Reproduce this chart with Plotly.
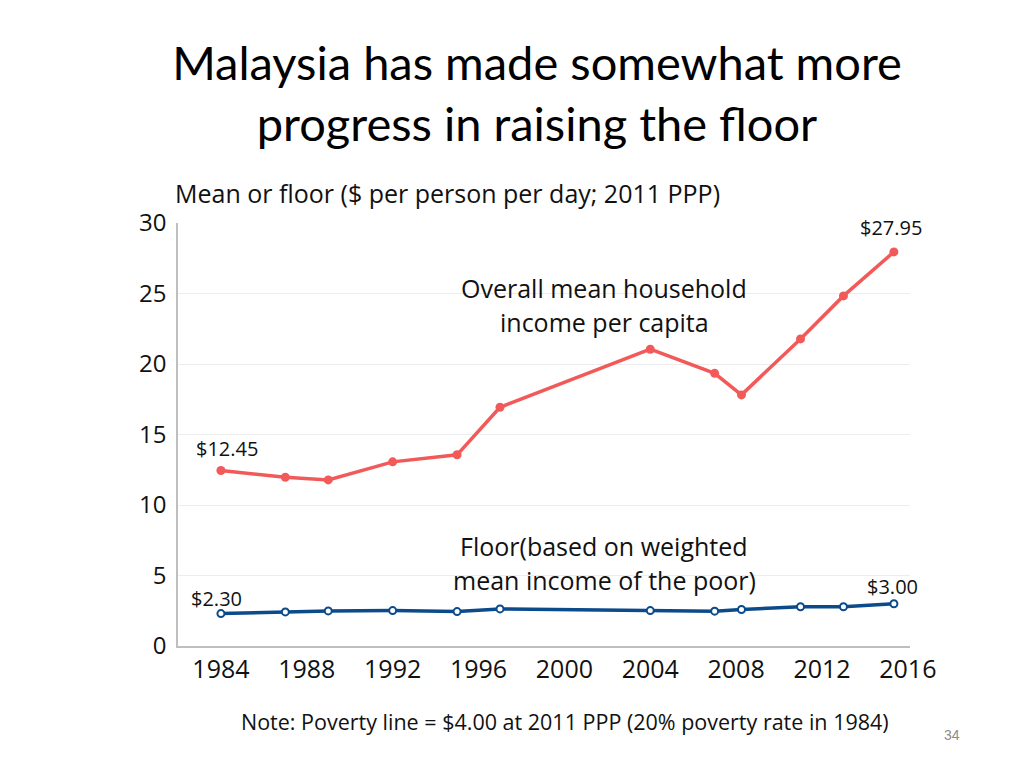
import plotly.graph_objects as go

years = [1984, 1987, 1989, 1992, 1995, 1997, 2004, 2007, 2008.25, 2011, 2013, 2015.35]
mean_income = [12.45, 11.97, 11.78, 13.06, 13.56, 16.93, 21.05, 19.34, 17.81, 21.78, 24.83, 27.95]
floor_income = [2.30, 2.42, 2.49, 2.51, 2.44, 2.63, 2.51, 2.47, 2.59, 2.78, 2.78, 3.00]
x_ticks = [1984, 1988, 1992, 1996, 2000, 2004, 2008, 2012, 2016]
y_ticks = [0, 5, 10, 15, 20, 25, 30]

TFONT = "Lato"
FONT = "Open Sans"
RED = "#F25A5A"
BLUE = "#0B4A8B"
TXT = "#111111"

fig = go.Figure()
fig.add_trace(go.Scatter(
    x=years, y=mean_income, mode="lines+markers",
    line=dict(color=RED, width=3.5),
    marker=dict(color=RED, size=9),
    showlegend=False, hoverinfo="skip"))
fig.add_trace(go.Scatter(
    x=years, y=floor_income, mode="lines+markers",
    line=dict(color=BLUE, width=3.5),
    marker=dict(color="white", size=7, line=dict(color=BLUE, width=2)),
    showlegend=False, hoverinfo="skip"))

anns = [
    dict(x=years[0], y=mean_income[0], text="$%.2f" % mean_income[0], yshift=22, xshift=6),
    dict(x=years[-1], y=mean_income[-1], text="$%.2f" % mean_income[-1], yshift=24, xshift=-3),
    dict(x=years[0], y=floor_income[0], text="$%.2f" % floor_income[0], yshift=15, xshift=-4),
    dict(x=years[-1], y=floor_income[-1], text="$%.2f" % floor_income[-1], yshift=17, xshift=-1),
]
for a in anns:
    fig.add_annotation(xref="x", yref="y", showarrow=False,
                       font=dict(family=FONT, size=20, color=TXT), **a)

def ptext(text, sx, sy, size, color=TXT, family=FONT, xanchor="center"):
    # sx, sy in screen pixels relative to plot area (178..910, 223..646)
    fig.add_annotation(xref="paper", yref="paper",
                       x=(sx - 178) / 732, y=(646 - sy) / 423,
                       xanchor=xanchor, yanchor="middle", showarrow=False, text=text,
                       font=dict(family=family, size=size, color=color))

ptext("Overall mean household", 604, 288, 25)
ptext("income per capita", 604, 322, 25)
ptext("Floor(based on weighted", 604, 546, 25)
ptext("mean income of the poor)", 604, 580, 25)
ptext("Mean or floor ($ per person per day; 2011 PPP)", 173, 193, 25, xanchor="left")
ptext("Note: Poverty line = $4.00 at 2011 PPP (20% poverty rate in 1984)", 565, 721, 21.5)
ptext("34", 952, 735, 14, color="#8C8C8C", family="Liberation Sans Narrow, Liberation Sans")

fig.update_layout(
    width=1024, height=768,
    margin=dict(l=170, r=122, t=215, b=130),
    paper_bgcolor="white", plot_bgcolor="white",
    title=dict(text="Malaysia has made somewhat more<br>progress in raising the floor",
               x=529 / 1024, xanchor="center", y=1 - 72 / 768, yanchor="middle",
               font=dict(family=TFONT, size=47, color="#000000")),
    xaxis=dict(range=[1982, 2016.1], tickvals=x_ticks, showgrid=False,
               showline=True, linecolor="#BFBFBF", linewidth=1.5, ticks="",
               ticklabelstandoff=0,
               tickfont=dict(family=FONT, size=25, color=TXT), zeroline=False),
    yaxis=dict(range=[0, 30], tickvals=y_ticks, showgrid=True, gridcolor="#EDEDED",
               showline=True, linecolor="#BFBFBF", linewidth=1.5, ticks="",
               ticklabelstandoff=5,
               tickfont=dict(family=FONT, size=24, color=TXT), zeroline=False),
)

fig.write_html("out.html")
